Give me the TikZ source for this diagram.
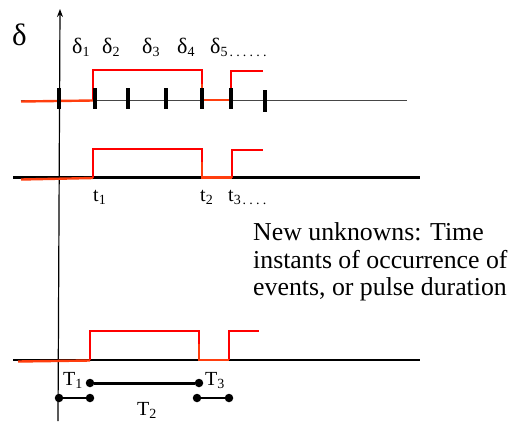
\documentclass[tikz,border=0pt]{standalone}
\usepackage{fontspec}
\setmainfont{Liberation Serif}
\usetikzlibrary{arrows.meta}
\definecolor{hired}{RGB}{255,0,0}
\definecolor{lored}{RGB}{255,62,14}
\definecolor{axgray}{RGB}{70,70,70}
\newcommand\subx[1]{\raisebox{-3.5pt}{\fontsize{14}{14}\selectfont #1}}
\newcommand\dotx{.\kern3.2pt}
\begin{document}
\begin{tikzpicture}[x=1pt,y=-1pt,
  lbl/.style={inner sep=0pt, anchor=base west, font=\fontsize{22}{22}\selectfont},
  tlbl/.style={inner sep=0pt, anchor=base west, font=\fontsize{20}{20}\selectfont},
  hisig/.style={hired, line width=2.4pt, line join=miter, line cap=butt},
  losig/.style={lored, line width=2.4pt, line cap=butt},
  tickmark/.style={black, line width=3.2pt},
  base/.style={black, line width=2.4pt},
  dotn/.style={circle, fill=black, inner sep=0pt, minimum size=8.5pt},
  seg/.style={black, line width=3pt},
  thinseg/.style={black, line width=1.4pt}]
\useasboundingbox (0,0) rectangle (512,421);

% axis
\coordinate (axtop) at (60,9);
\coordinate (axbot) at (58,421);
\draw[black, line width=1.2pt, -{Stealth[length=8pt,width=6pt]}] (axbot) -- (axtop);

% labels top
\node[inner sep=0pt, anchor=base west, font=\fontsize{31}{31}\selectfont] (dbig) at (12,45) {δ};
\node[lbl] (d1) at (72,53) {δ\subx{1}};
\node[lbl] (d2) at (102,53) {δ\subx{2}};
\node[lbl] (d3) at (142,53) {δ\subx{3}};
\node[lbl] (d4) at (177,53) {δ\subx{4}};
\node[lbl] (d5) at (210,53) {δ\subx{5\kern2pt\dotx\dotx\dotx\dotx\dotx.}};

% signal 1
\draw[axgray, line width=0.9pt] (21,100) -- (407,100);
\draw[hisig] (93,100) -- (93,70) -- (202,70) -- (202,86);
\draw[hisig] (231,100) -- (231,71) -- (263,71);
\draw[losig] (21,101.5) -- (93,100.5);
\draw[losig] (202,84) -- (202,100) -- (231,100);
\foreach \x in {59,95,128,166,202,231}
  \draw[tickmark] (\x,88) -- (\x,109);
\draw[tickmark] (265,90) -- (265,112);

% signal 2
\draw[base] (13,177.5) -- (420,177.5);
\draw[hisig] (93,177.5) -- (93,149) -- (202,149) -- (202,164);
\draw[hisig] (232,177.5) -- (232,150) -- (263,150);
\draw[losig] (21,179.5) -- (93,178);
\draw[losig] (202,162) -- (202,177.5) -- (232,177.5);
\node[tlbl] (t1) at (93,201) {t\subx{1}};
\node[tlbl] (t2) at (200,201) {t\subx{2}};
\node[tlbl] (t3) at (228,201) {t\subx{3\kern2pt\dotx\dotx\dotx.}};

% text
\node[inner sep=0pt, anchor=north west, align=left,
  font=\fontsize{25.8}{27.6}\selectfont] (txt) at (253,222.5)
  {New unknowns: Time\\instants of occurrence of\\events, or pulse duration};

% signal 3
\draw[base] (13,360) -- (420,360);
\draw[hisig] (90,360) -- (90,331) -- (199,331) -- (199,346);
\draw[hisig] (229,360) -- (229,331) -- (259,331);
\draw[losig] (18,361.5) -- (90,360.5);
\draw[losig] (199,344) -- (199,360) -- (229,360);

% durations
\node[dotn] (a1) at (90,383) {};
\node[dotn] (a2) at (199,383) {};
\draw[seg] (a1) -- (a2);
\node[dotn] (b1) at (59,398) {};
\node[dotn] (b2) at (90,398) {};
\draw[thinseg] (b1) -- (b2);
\node[dotn] (c1) at (197,398) {};
\node[dotn] (c2) at (229,398) {};
\draw[thinseg] (c1) -- (c2);
\node[tlbl] (T1) at (63,385) {T\subx{1}};
\node[tlbl] (T3) at (205,385) {T\subx{3}};
\node[tlbl] (T2) at (137,415) {T\subx{2}};
\end{tikzpicture}
\end{document}
